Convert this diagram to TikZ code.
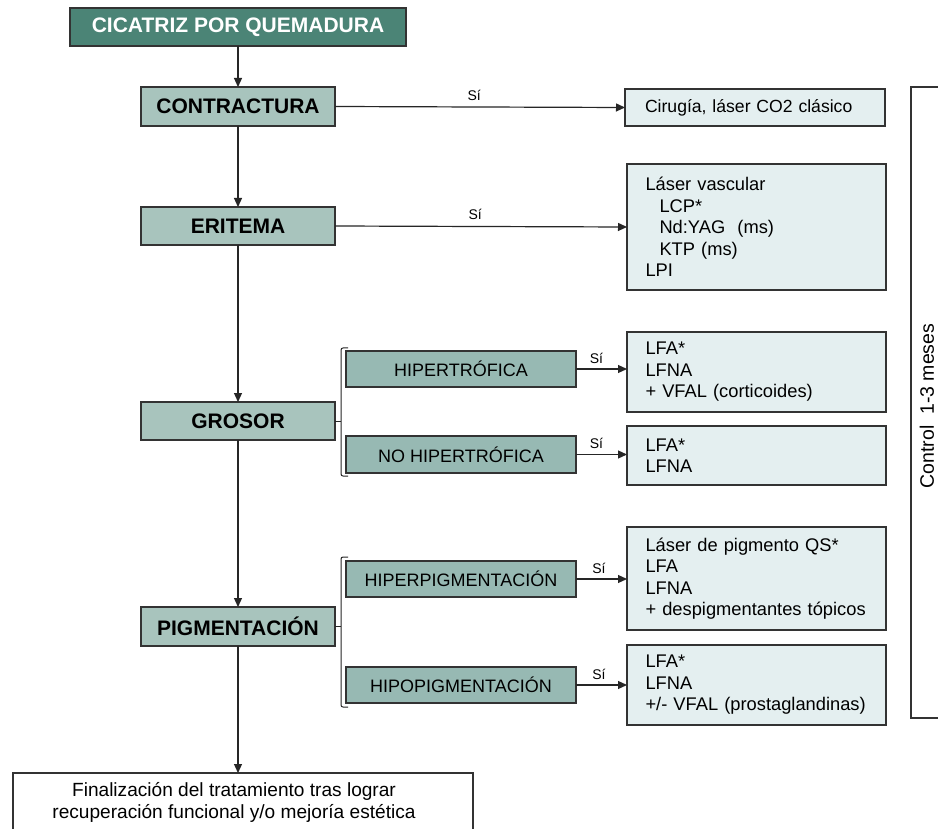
\documentclass[tikz,border=0pt]{standalone}
\usepackage{fontspec}
\setmainfont{Liberation Sans}
\usetikzlibrary{arrows.meta}
\definecolor{darkteal}{HTML}{4B8476}
\definecolor{midteal}{HTML}{A8C4BD}
\definecolor{subteal}{HTML}{97B9B3}
\definecolor{lightbox}{HTML}{E4EFF0}
\definecolor{edge}{HTML}{333333}
\tikzset{
  base/.style={draw=edge, line width=1.3pt, inner sep=0pt, outer sep=0pt, anchor=center},
  topbox/.style={base, fill=darkteal, text=white, font=\fontsize{21}{24}\selectfont\bfseries, minimum width=336pt, minimum height=38pt},
  mainbox/.style={base, fill=midteal, font=\fontsize{21}{24}\selectfont\bfseries, minimum width=194pt, minimum height=38pt},
  subbox/.style={base, fill=subteal, font=\fontsize{18}{21}\selectfont, minimum width=230pt, minimum height=36pt},
  treat/.style={base, fill=lightbox, font=\fontsize{18.3}{21.5}\selectfont, minimum width=259pt, text width=222pt, align=left},
  plainbox/.style={base, fill=white},
  conn/.style={line width=1.2pt, draw=black!85},
  arr/.style={conn, -{Triangle[length=9pt,width=8pt]}},
  silabel/.style={font=\fontsize{14}{16}\selectfont, inner sep=0pt},
}
\begin{document}
\begin{tikzpicture}[x=1pt,y=-1pt]
\useasboundingbox (0,0) rectangle (938,829);
\fill[white] (0,0) rectangle (938,829);

% main column
\node[topbox] (top) at (238,27) {CICATRIZ POR QUEMADURA};
\node[mainbox, minimum height=39pt] (contr) at (238,106.5) {CONTRACTURA};
\node[mainbox] (erit) at (238,226) {ERITEMA};
\node[mainbox] (gros) at (238,421) {GROSOR};
\node[mainbox, minimum height=39pt] (pigm) at (238,626.5) {PIGMENTACIÓN};

% sub boxes
\node[subbox] (hiper) at (461,369) {HIPERTRÓFICA};
\node[subbox, minimum height=37pt] (nohiper) at (461,454.5) {NO HIPERTRÓFICA};
\node[subbox] (hiperpig) at (461,579) {HIPERPIGMENTACIÓN};
\node[subbox] (hipopig) at (461,685) {HIPOPIGMENTACIÓN};

% treatment boxes
\node[treat, font=\fontsize{17.6}{21}\selectfont, minimum height=37pt, minimum width=260pt, text width=220pt] (cir) at (755,107.5) {Cirugía, láser CO2 clásico};
\node[treat, minimum height=126pt] (vasc) at (756.5,227) {Láser vascular\\\hspace*{14pt}LCP*\\\hspace*{14pt}Nd:YAG\ \ (ms)\\\hspace*{14pt}KTP (ms)\\LPI};
\node[treat, minimum height=80pt] (lfa1) at (756.5,372) {LFA*\\LFNA\\+ VFAL (corticoides)};
\node[treat, minimum height=59pt] (lfa2) at (756.5,455.5) {LFA*\\LFNA};
\node[treat, minimum height=103pt] (pig) at (756.5,578.5) {Láser de pigmento QS*\\LFA\\LFNA\\+ despigmentantes tópicos};
\node[treat, minimum height=80pt] (lfa3) at (756.5,685) {LFA*\\LFNA\\+/- VFAL (prostaglandinas)};

% final box
\node[plainbox, minimum width=460pt, minimum height=70pt] (final) at (243,808) {};
\node[font=\fontsize{19.1}{22}\selectfont, align=center, inner sep=0pt, anchor=north] (finaltext) at (234,782) {Finalización del tratamiento tras lograr\\recuperación funcional y/o mejoría estética};

% control box (open on the right, running past the page edge)
\coordinate (ctrltr) at (938,87);
\coordinate (ctrlbr) at (938,718);
\coordinate (ctrltl) at (911,87);
\coordinate (ctrlbl) at (911,718);
\draw[draw=edge, line width=1.3pt] (ctrltr) -- (ctrltl) -- (ctrlbl) -- (ctrlbr);
\node[font=\fontsize{19.5}{21}\selectfont, rotate=90, inner sep=0pt] (ctrltext) at (927,406) {Control\ \ 1-3 meses};

% vertical arrows
\draw[arr] (top) -- (contr);
\draw[arr] (contr) -- (erit);
\draw[arr] (erit) -- (gros);
\draw[arr] (gros) -- (pigm);
\draw[arr] (pigm.south) -- (pigm.south |- final.north);

% horizontal arrows
\draw[arr] (contr.east) -- (cir.west) node[silabel, pos=0.48, above=6pt] (si1) {Sí};
\draw[arr] (erit.east) -- (vasc.west) node[silabel, pos=0.48, above=6pt] (si2) {Sí};
\draw[arr] (hiper.east) -- (lfa1.west |- hiper.east) node[silabel, pos=0.4, above=5pt] (si3) {Sí};
\draw[arr] (nohiper.east) -- (lfa2.west |- nohiper.east) node[silabel, pos=0.4, above=5pt] (si4) {Sí};
\draw[arr] (hiperpig.east) -- (pig.west |- hiperpig.east) node[silabel, pos=0.45, above=5pt] (si5) {Sí};
\draw[arr] (hipopig.east) -- (lfa3.west |- hipopig.east) node[silabel, pos=0.45, above=5pt] (si6) {Sí};

% brackets
\coordinate (b1) at (341,421);
\coordinate (b1t) at (348,348);
\coordinate (b1b) at (348,476);
\draw[conn, line width=1pt] (gros.east) -- (b1);
\draw[conn, line width=1pt, rounded corners=2pt] (b1t) -- (341,348) -- (341,476) -- (b1b);
\coordinate (b2) at (341,626.5);
\coordinate (b2t) at (348,557);
\coordinate (b2b) at (348,707);
\draw[conn, line width=1pt] (pigm.east) -- (b2);
\draw[conn, line width=1pt, rounded corners=2pt] (b2t) -- (341,557) -- (341,707) -- (b2b);
\end{tikzpicture}
\end{document}
